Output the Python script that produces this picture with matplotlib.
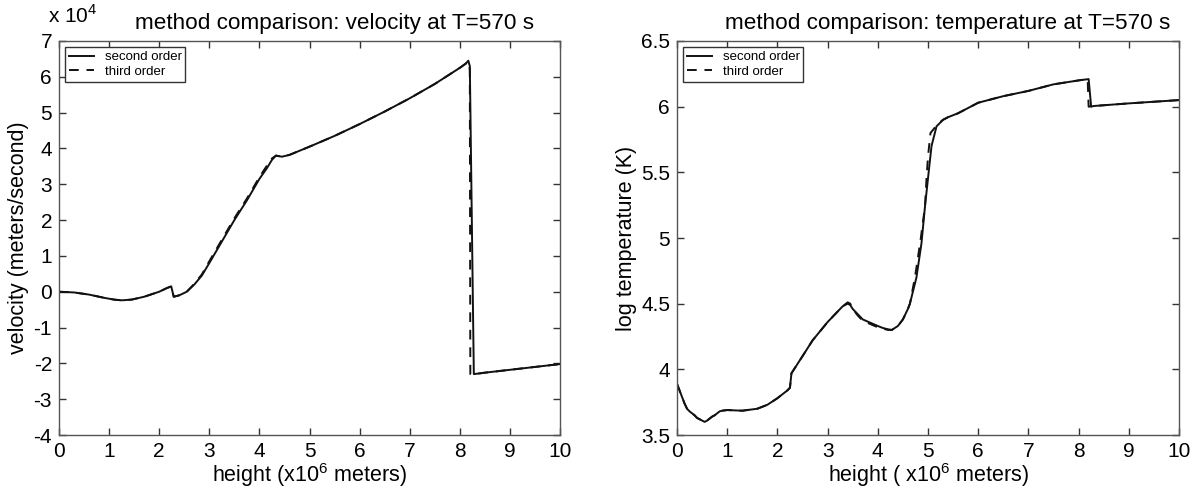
import matplotlib
matplotlib.use("Agg")
import matplotlib.pyplot as plt

plt.rcParams['font.family'] = ['Liberation Sans', 'DejaVu Sans']
plt.rcParams['mathtext.fontset'] = 'custom'
plt.rcParams['mathtext.rm'] = 'Liberation Sans'
plt.rcParams['axes.unicode_minus'] = False

# ---------------- velocity data (units of 1e4 m/s), height in 1e6 m -------------
vel_h2 = [0.0, 0.3, 0.6, 0.9, 1.1, 1.25, 1.45, 1.7, 2.0, 2.15, 2.24, 2.29, 2.4, 2.55,
          2.7, 2.85, 3.0, 3.25, 3.5, 3.75, 4.0, 4.15, 4.25, 4.33, 4.45, 4.6, 5.0,
          5.5, 6.0, 6.5, 7.0, 7.5, 8.0, 8.12, 8.17, 8.2, 8.28, 8.5, 9.0, 9.5, 10.0]
vel_v2 = [0.0, -0.02, -0.08, -0.17, -0.22, -0.24, -0.22, -0.14, 0.0, 0.1, 0.15, -0.14, -0.1, 0.0,
          0.2, 0.45, 0.8, 1.4, 2.0, 2.55, 3.15, 3.45, 3.68, 3.8, 3.77, 3.82, 4.05,
          4.35, 4.68, 5.03, 5.4, 5.8, 6.25, 6.37, 6.45, 6.3, -2.3, -2.26, -2.18, -2.1, -2.02]

vel_h3 = [0.0, 0.3, 0.6, 0.9, 1.1, 1.25, 1.45, 1.7, 2.0, 2.15, 2.24, 2.29, 2.4, 2.55,
          2.7, 2.85, 3.0, 3.25, 3.5, 3.75, 4.0, 4.15, 4.25, 4.33, 4.45, 4.6, 5.0,
          5.5, 6.0, 6.5, 7.0, 7.5, 8.0, 8.12, 8.17, 8.2, 8.21, 8.3, 8.5, 9.0, 9.5, 10.0]
vel_v3 = [0.0, -0.02, -0.08, -0.17, -0.22, -0.24, -0.22, -0.14, 0.0, 0.1, 0.15, -0.14, -0.1, 0.0,
          0.22, 0.48, 0.85, 1.45, 2.05, 2.6, 3.2, 3.52, 3.72, 3.8, 3.77, 3.82, 4.05,
          4.35, 4.68, 5.03, 5.4, 5.8, 6.25, 6.37, 6.42, 6.2, -2.3, -2.3, -2.26, -2.18, -2.1, -2.02]

# ---------------- temperature data (log K) -------------
tem_h2 = [0.0, 0.05, 0.1, 0.15, 0.2, 0.25, 0.35, 0.4, 0.5, 0.55, 0.6, 0.7, 0.75, 0.85, 0.9,
          1.0, 1.3, 1.6, 1.8, 2.0, 2.2, 2.25, 2.28, 2.5, 2.7, 3.0, 3.2, 3.3, 3.4, 3.45,
          3.5, 3.6, 3.7, 4.0, 4.1, 4.2, 4.28, 4.4, 4.5, 4.6, 4.64, 4.77, 4.87, 4.94,
          5.01, 5.07, 5.17, 5.3, 5.4, 5.6, 5.8, 6.0, 6.2, 6.5, 7.0, 7.5, 8.0, 8.2,
          8.25, 8.3, 9.0, 10.0]
tem_t2 = [3.89, 3.84, 3.79, 3.74, 3.70, 3.68, 3.65, 3.63, 3.61, 3.60, 3.61, 3.64, 3.65, 3.68, 3.685,
          3.69, 3.685, 3.70, 3.73, 3.78, 3.84, 3.86, 3.97, 4.1, 4.22, 4.36, 4.44, 4.48, 4.5, 4.49,
          4.46, 4.42, 4.38, 4.33, 4.315, 4.305, 4.30, 4.33, 4.38, 4.46, 4.50, 4.70, 4.96, 5.24,
          5.49, 5.70, 5.85, 5.90, 5.92, 5.95, 5.99, 6.03, 6.05, 6.08, 6.12, 6.17, 6.20, 6.21,
          6.00, 6.005, 6.025, 6.05]

tem_h3 = [0.0, 0.05, 0.1, 0.15, 0.2, 0.25, 0.35, 0.4, 0.5, 0.55, 0.6, 0.7, 0.75, 0.85, 0.9,
          1.0, 1.3, 1.6, 1.8, 2.0, 2.2, 2.25, 2.28, 2.5, 2.7, 3.0, 3.2, 3.3, 3.4, 3.45,
          3.5, 3.6, 3.7, 4.0, 4.1, 4.2, 4.28, 4.4, 4.5, 4.6, 4.64, 4.74, 4.85, 4.94,
          4.97, 5.0, 5.05, 5.2, 5.3, 5.4, 5.6, 5.8, 6.0, 6.2, 6.5, 7.0, 7.5, 8.0, 8.18,
          8.2, 8.3, 9.0, 10.0]
tem_t3 = [3.89, 3.84, 3.79, 3.74, 3.70, 3.68, 3.65, 3.63, 3.61, 3.60, 3.61, 3.64, 3.65, 3.68, 3.685,
          3.69, 3.685, 3.70, 3.73, 3.78, 3.84, 3.86, 3.97, 4.1, 4.22, 4.36, 4.44, 4.48, 4.51, 4.50,
          4.46, 4.41, 4.37, 4.32, 4.31, 4.30, 4.30, 4.33, 4.38, 4.46, 4.50, 4.70, 4.98, 5.24,
          5.45, 5.62, 5.80, 5.87, 5.90, 5.92, 5.95, 5.99, 6.03, 6.05, 6.08, 6.12, 6.17, 6.20, 6.21,
          6.00, 6.005, 6.025, 6.05]

fig = plt.figure(figsize=(12.03, 4.90), dpi=100)
ax1 = fig.add_axes([59/1203, 55/490, 501/1203, 394/490])
ax2 = fig.add_axes([677/1203, 55/490, 502/1203, 394/490])

lc = '#111111'
for ax in (ax1, ax2):
    for s in ax.spines.values():
        s.set_linewidth(1.0)
        s.set_color('#555555')
    ax.tick_params(direction='in', top=True, right=True, length=5, width=1.0,
                   color='#333333', labelsize=15, pad=5)
    ax.set_xlim(0, 10)
    ax.set_xticks(range(0, 11))

ax1.plot(vel_h2, vel_v2, color=lc, lw=1.4, label='second order')
ax1.plot(vel_h3, vel_v3, color=lc, lw=1.4, ls=(0, (5, 4)), label='third order')
ax1.set_ylim(-4, 7)
ax1.set_yticks(range(-4, 8))
ax1.set_title('method comparison: velocity at T=570 s', fontsize=16.2, pad=9, x=0.55)
ax1.set_xlabel(r'height (x10$^{6}$ meters)', fontsize=15.5, labelpad=0)
ax1.set_ylabel('velocity (meters/second)', fontsize=15.5, labelpad=3)
ax1.text(-0.022, 1.035, r'x 10$^{4}$', transform=ax1.transAxes, fontsize=15,
         ha='left', va='bottom')

ax2.plot(tem_h2, tem_t2, color=lc, lw=1.4, label='second order')
ax2.plot(tem_h3, tem_t3, color=lc, lw=1.4, ls=(0, (5, 4)), label='third order')
ax2.set_ylim(3.5, 6.5)
ax2.set_yticks([3.5, 4, 4.5, 5, 5.5, 6, 6.5])
ax2.set_yticklabels(['3.5', '4', '4.5', '5', '5.5', '6', '6.5'])
ax2.set_title('method comparison: temperature at T=570 s', fontsize=16.2, pad=9, x=0.54)
ax2.set_xlabel(r'height ( x10$^{6}$ meters)', fontsize=15.5, labelpad=0)
ax2.set_ylabel('log temperature (K)', fontsize=15.5, labelpad=3)

for ax in (ax1, ax2):
    leg = ax.legend(loc='upper left', fontsize=9.5, frameon=True, fancybox=False,
                    edgecolor='#333333', framealpha=1, handlelength=1.9,
                    borderpad=0.3, labelspacing=0.2, handletextpad=0.8,
                    borderaxespad=0.45)
    leg.get_frame().set_linewidth(1.0)

fig.savefig('out.png', dpi=100)
